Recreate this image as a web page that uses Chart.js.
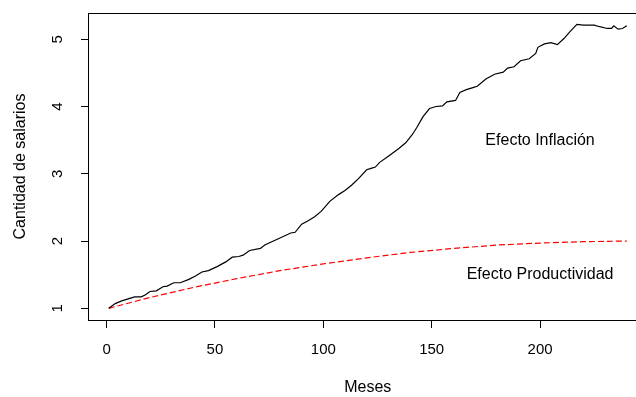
<!DOCTYPE html>
<html>
<head>
<meta charset="utf-8">
<script src="https://cdn.jsdelivr.net/npm/chart.js@4/dist/chart.umd.min.js"></script>
<style>
  html, body { margin: 0; padding: 0; background: #fff; overflow: hidden; }
  #wrap { width: 660px; height: 397px; }
</style>
</head>
<body>
<div id="wrap"><canvas id="canvas" width="660" height="397"></canvas></div>
<script>
// months and values
const mesesInfl = [1, 4, 7, 10, 13, 16, 18, 20, 23, 26, 28, 31, 34, 38, 41, 44, 47, 51, 55, 58,
    61, 63, 66, 71, 73, 79, 85, 87, 90, 93, 96, 99, 103, 107, 110, 113, 116, 120, 122, 124,
    126, 130, 135, 138, 141, 143, 146, 149, 152, 155, 157, 161, 163, 166, 169, 171, 175, 179, 183, 185,
    188, 191, 195, 198, 199, 202, 205, 208, 211, 214, 217, 220, 225, 227, 231, 233, 234, 236, 238, 240];
const inflacion = [1.00, 1.07, 1.11, 1.14, 1.17, 1.17, 1.20, 1.25, 1.26, 1.32, 1.33, 1.38, 1.38, 1.43, 1.48, 1.54, 1.56, 1.62, 1.69, 1.76,
    1.77, 1.79, 1.86, 1.89, 1.94, 2.03, 2.12, 2.13, 2.25, 2.30, 2.36, 2.44, 2.59, 2.69, 2.75, 2.83, 2.92, 3.06, 3.08, 3.10,
    3.17, 3.26, 3.38, 3.46, 3.58, 3.68, 3.85, 3.97, 4.00, 4.01, 4.07, 4.09, 4.21, 4.25, 4.28, 4.30, 4.41, 4.48, 4.51, 4.57,
    4.59, 4.68, 4.71, 4.79, 4.88, 4.93, 4.95, 4.92, 5.01, 5.12, 5.22, 5.21, 5.21, 5.19, 5.16, 5.16, 5.20, 5.15, 5.16, 5.20];

const mesesProd = [1, 20, 40, 60, 80, 100, 120, 140, 160, 180, 200, 220, 240];
const productividad = [1.00, 1.16, 1.31, 1.44, 1.56, 1.66, 1.75, 1.83, 1.89, 1.94, 1.97, 1.99, 2.00];

const xTicks = [0, 50, 100, 150, 200];
const yTicks = [1, 2, 3, 4, 5];

const textos = [
    {x: 200, y: 3.5, label: 'Efecto Inflación'},
    {x: 200, y: 1.5, label: 'Efecto Productividad'}
];

const FONT = '"Liberation Sans", Arial, sans-serif';

function pares(xs, ys) {
    return xs.map((x, i) => ({x: x, y: ys[i]}));
}

// box, rotated y labels, axis titles and text labels (R style)
const rPlot = {
    id: 'rPlot',
    afterDraw(chart) {
        const ctx = chart.ctx;
        const a = chart.chartArea;
        const xs = chart.scales.x;
        const ys = chart.scales.y;
        ctx.save();
        ctx.strokeStyle = '#000';
        ctx.lineWidth = 1;
        ctx.strokeRect(a.left + 0.5, a.top + 0.5, a.right - a.left, a.bottom - a.top);

        ctx.fillStyle = '#000';
        ctx.textAlign = 'center';
        ctx.textBaseline = 'middle';
        ctx.font = '15px ' + FONT;
        yTicks.forEach(v => {
            ctx.save();
            ctx.translate(58, ys.getPixelForValue(v));
            ctx.rotate(-Math.PI / 2);
            ctx.fillText(String(v), 0, 0);
            ctx.restore();
        });

        ctx.font = '16px ' + FONT;
        ctx.save();
        ctx.translate(21, (a.top + a.bottom) / 2);
        ctx.rotate(-Math.PI / 2);
        ctx.fillText('Cantidad de salarios', 0, 0);
        ctx.restore();
        ctx.fillText('Meses', (a.left + a.right) / 2, 388);

        textos.forEach(t => {
            ctx.fillText(t.label, xs.getPixelForValue(t.x), ys.getPixelForValue(t.y));
        });
        ctx.restore();
    }
};

const ctx = document.getElementById('canvas').getContext('2d');
const myChart = new Chart(ctx, {
    type: 'line',
    data: {
        datasets: [{
            label: 'Efecto Inflación',
            data: pares(mesesInfl, inflacion),
            borderColor: '#000',
            borderWidth: 1.2,
            pointRadius: 0,
            tension: 0
        }, {
            label: 'Efecto Productividad',
            data: pares(mesesProd, productividad),
            borderColor: '#ff0000',
            borderWidth: 1.2,
            borderDash: [6, 3],
            pointRadius: 0,
            tension: 0
        }]
    },
    options: {
        responsive: false,
        animation: false,
        layout: { padding: { top: 13, right: 12.5, left: 0, bottom: 0 } },
        plugins: { legend: { display: false }, tooltip: { enabled: false } },
        scales: {
            x: {
                type: 'linear',
                min: -8.56,
                max: 249.56,
                afterBuildTicks: s => { s.ticks = xTicks.map(v => ({value: v})); },
                afterFit: s => { s.height = 77; },
                border: { display: false },
                grid: { drawOnChartArea: false, drawTicks: true, tickLength: 8, color: '#000' },
                ticks: { color: '#000', padding: 13, maxRotation: 0, font: { size: 15, family: FONT } }
            },
            y: {
                type: 'linear',
                min: 0.826,
                max: 5.39,
                afterBuildTicks: s => { s.ticks = yTicks.map(v => ({value: v})); },
                afterFit: s => { s.width = 88; },
                border: { display: false },
                grid: { drawOnChartArea: false, drawTicks: true, tickLength: 7, color: '#000' },
                ticks: { display: false }
            }
        }
    },
    plugins: [rPlot]
});
</script>
</body>
</html>
